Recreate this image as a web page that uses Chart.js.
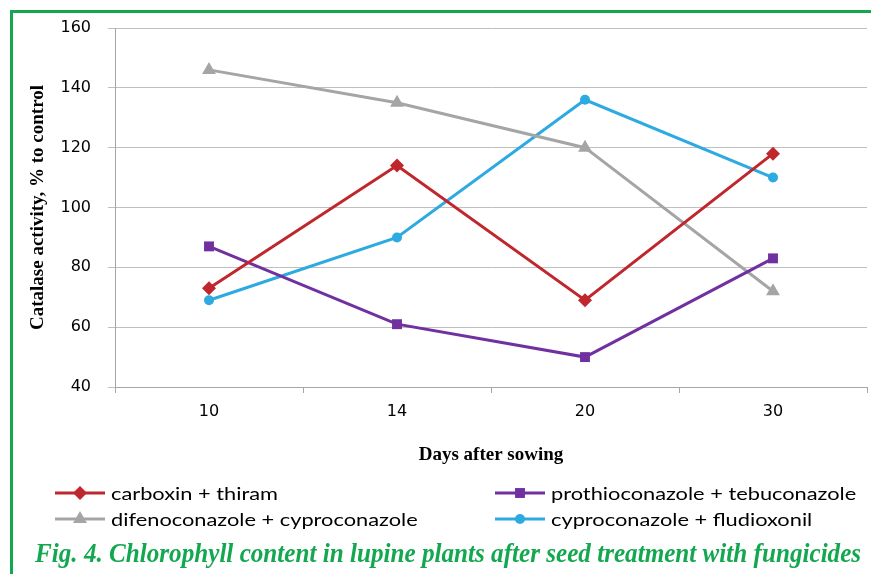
<!DOCTYPE html>
<html>
<head>
<meta charset="utf-8">
<script src="https://cdn.jsdelivr.net/npm/chart.js@4.4.1/dist/chart.umd.min.js"></script>
<style>
  body { margin: 0; background: #fff; }
  #wrap { position: relative; width: 871px; height: 574px; overflow: hidden; }
  #frame { position: absolute; left: 10px; top: 10px; right: 0; bottom: 0;
           border-top: 3px solid #13a84f; border-left: 3px solid #13a84f; }
  #chart { position: absolute; left: 0; top: 0; }
  #caption { position: absolute; left: 35px; top: 538px; white-space: nowrap;
             font: italic bold 27px "Liberation Serif", serif; color: #13a84f;
             transform-origin: 0 0; transform: scaleX(0.931); }
</style>
</head>
<body>
<div id="wrap">
  <div id="frame"></div>
  <canvas id="chart" width="875" height="574"></canvas>
  <div id="caption">Fig. 4. Chlorophyll content in lupine plants after seed treatment with fungicides</div>
</div>
<script>
// days after sowing
var days = ["10", "14", "20", "30"];

var carboxin = [73, 114, 69, 118];
var prothio = [87, 61, 50, 83];
var difeno = [146, 135, 120, 72];
var cyproFlud = [69, 90, 136, 110];

var seriesNames = ["carboxin + thiram", "prothioconazole + tebuconazole",
                   "difenoconazole + cyproconazole", "cyproconazole + fludioxonil"];
var seriesColors = ["#c0272d", "#7030a0", "#a5a5a5", "#2daae1"];
var seriesMarkers = ["rectRot", "rect", "triangle", "circle"];
var markerSizes = [7, 7, 8, 5];
var seriesData = [carboxin, prothio, difeno, cyproFlud];

var datasets = [];
for (var i = 0; i < seriesData.length; i++) {
    datasets.push({
        label: seriesNames[i],
        data: seriesData[i],
        borderColor: seriesColors[i],
        backgroundColor: seriesColors[i],
        borderWidth: 3,
        pointStyle: seriesMarkers[i],
        pointRadius: markerSizes[i],
        pointBorderWidth: 0,
        tension: 0
    });
}

// legend laid out like the Excel one: two fixed columns
var legendPlugin = {
    id: "fixedLegend",
    afterDraw: function (chart) {
        var ctx = chart.ctx;
        var cols = [55, 495];
        var rows = [493, 519];
        ctx.save();
        ctx.font = '18px Lato, "Open Sans", sans-serif';
        // stretch text so it spans like the original
        var stretch = 167 / ctx.measureText(seriesNames[0]).width;
        for (var k = 0; k < seriesNames.length; k++) {
            var x = cols[k % 2];
            var y = rows[Math.floor(k / 2)];
            ctx.strokeStyle = seriesColors[k];
            ctx.fillStyle = seriesColors[k];
            ctx.lineWidth = 3;
            ctx.beginPath();
            ctx.moveTo(x, y);
            ctx.lineTo(x + 50, y);
            ctx.stroke();
            Chart.helpers.drawPoint(ctx, {
                pointStyle: seriesMarkers[k],
                radius: markerSizes[k],
                borderWidth: 0,
                rotation: 0
            }, x + 25, y);
            ctx.save();
            ctx.fillStyle = "#000";
            ctx.textBaseline = "middle";
            ctx.translate(x + 56, y + 1);
            ctx.scale(stretch, 1);
            ctx.fillText(seriesNames[k], 0, 0);
            ctx.restore();
        }
        ctx.restore();
    }
};

var chart = new Chart("chart", {
    type: "line",
    data: { labels: days, datasets: datasets },
    plugins: [legendPlugin],
    options: {
        responsive: false,
        animation: false,
        layout: { padding: { left: 0, top: 28, right: 0, bottom: 107 } },
        plugins: { legend: { display: false }, tooltip: { enabled: false } },
        scales: {
            x: {
                offset: true,
                afterFit: function (s) { s.height = 80; },
                grid: { drawOnChartArea: false, offset: true, tickLength: 6, color: "#a6a6a6" },
                border: { color: "#a6a6a6" },
                ticks: { color: "#000", padding: 9, font: { family: "DejaVu Sans", size: 16 } },
                title: { display: true, text: "Days after sowing", color: "#000",
                         padding: { top: 0, bottom: 1 },
                         font: { family: "Liberation Serif", size: 19, weight: "bold" } }
            },
            y: {
                min: 40, max: 160,
                afterFit: function (s) { s.width = 115; },
                grid: { color: "#bfbfbf", tickLength: 7 },
                border: { color: "#a6a6a6" },
                ticks: { stepSize: 20, color: "#000", padding: 17, font: { family: "DejaVu Sans", size: 16 } },
                title: { display: true, text: "Catalase activity, % to control", color: "#000",
                         padding: { top: 27, bottom: 0 },
                         font: { family: "Liberation Serif", size: 19, weight: "bold" } }
            }
        }
    }
});
</script>
</body>
</html>
